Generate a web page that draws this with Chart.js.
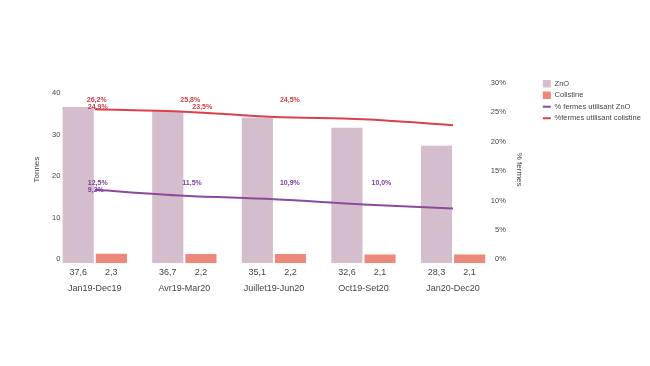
<!DOCTYPE html>
<html>
<head>
<meta charset="utf-8">
<script src="https://cdn.jsdelivr.net/npm/chart.js@4.4.1/dist/chart.umd.min.js"></script>
<style>
  html, body { margin: 0; padding: 0; background: #fff; }
</style>
</head>
<body>
<canvas id="chart" width="650" height="366"></canvas>
<script>
// données
const periodes = ['Jan19-Dec19', 'Avr19-Mar20', 'Juillet19-Jun20', 'Oct19-Set20', 'Jan20-Dec20'];
const tonnesZnO = [37.6, 36.7, 35.1, 32.6, 28.3];
const tonnesColistine = [2.3, 2.2, 2.2, 2.1, 2.1];
const pctFermesZnO = [12.5, 11.5, 10.9, 10.0, 9.3];
const pctFermesColistine = [26.2, 25.8, 24.9, 24.5, 23.5];

const FONT = '"Liberation Sans", Arial, sans-serif';
const TXT = '#454545';

const fmt = v => v.toFixed(1).replace('.', ',');

// valeurs sous les barres
const valeursBarres = {
    id: 'valeursBarres',
    afterDraw(chart) {
        const ctx = chart.ctx;
        ctx.save();
        ctx.font = '9px ' + FONT;
        ctx.fillStyle = TXT;
        ctx.textAlign = 'center';
        ctx.textBaseline = 'middle';
        [0, 1].forEach(i => {
            const meta = chart.getDatasetMeta(i);
            meta.data.forEach((bar, j) => {
                ctx.fillText(fmt(chart.data.datasets[i].data[j]), bar.x, chart.chartArea.bottom + 9);
            });
        });
        ctx.restore();
    }
};

// étiquettes des % (placées comme sur l'original : [index valeur, période, ligne, décalage x])
const etiquettesPct = {
    id: 'etiquettesPct',
    afterDatasetsDraw(chart) {
        const ctx = chart.ctx;
        const x = chart.scales.x;
        const y1 = chart.scales.y1;
        const series = [
            { ds: 3, color: '#cf3d47', rows: [-9, -2.5],
              place: [[0, 0, 0, -8], [1, 1, 0, -4], [3, 2, 0, 6], [2, 0, 1, -7], [4, 1, 1, 8]] },
            { ds: 2, color: '#7a3d9e', rows: [-7, 0],
              place: [[0, 0, 0, -7], [1, 1, 0, -2], [2, 2, 0, 6], [3, 3, 0, 8], [4, 0, 1, -7]] }
        ];
        ctx.save();
        ctx.font = 'bold 7px ' + FONT;
        ctx.textAlign = 'left';
        ctx.textBaseline = 'middle';
        series.forEach(s => {
            const data = chart.data.datasets[s.ds].data;
            const base = y1.getPixelForValue(data[0]);
            ctx.fillStyle = s.color;
            s.place.forEach(([vi, ci, row, dx]) => {
                ctx.fillText(fmt(data[vi]) + '%', x.getPixelForValue(ci) + dx, base + s.rows[row]);
            });
        });
        ctx.restore();
    }
};

new Chart(document.getElementById('chart'), {
    type: 'bar',
    data: {
        labels: periodes,
        datasets: [
            { label: 'ZnO', data: tonnesZnO, backgroundColor: '#d4bdcd', yAxisID: 'y', order: 2,
              categoryPercentage: 0.74, barPercentage: 0.94 },
            { label: 'Colistine', data: tonnesColistine, backgroundColor: '#ee887b', yAxisID: 'y', order: 2,
              categoryPercentage: 0.74, barPercentage: 0.94 },
            { type: 'line', label: '% fermes utilisant ZnO', data: pctFermesZnO, borderColor: '#8b4a9c',
              backgroundColor: '#8b4a9c', borderWidth: 2, pointRadius: 0, tension: 0.35, yAxisID: 'y1', order: 1 },
            { type: 'line', label: '%fermes utilisant colistine', data: pctFermesColistine, borderColor: '#d9414c',
              backgroundColor: '#d9414c', borderWidth: 2, pointRadius: 0, tension: 0.35, yAxisID: 'y1', order: 1 }
        ]
    },
    options: {
        responsive: false,
        animation: false,
        devicePixelRatio: 1,
        layout: { padding: { left: 28, top: 76, right: 9, bottom: 52 } },
        plugins: {
            tooltip: { enabled: false },
            legend: {
                position: 'right',
                align: 'start',
                labels: {
                    usePointStyle: true,
                    boxHeight: 8,
                    pointStyleWidth: 8,
                    padding: 4,
                    color: TXT,
                    font: { size: 7.5, family: FONT },
                    generateLabels(chart) {
                        return chart.data.datasets.map((d, i) => ({
                            text: d.label,
                            fillStyle: d.type === 'line' ? d.borderColor : d.backgroundColor,
                            strokeStyle: d.type === 'line' ? d.borderColor : d.backgroundColor,
                            lineWidth: d.type === 'line' ? 2 : 0,
                            pointStyle: d.type === 'line' ? 'line' : 'rect',
                            fontColor: TXT,
                            datasetIndex: i
                        }));
                    }
                }
            }
        },
        scales: {
            x: {
                grid: { display: false, drawTicks: false },
                border: { display: false },
                ticks: { padding: 20, color: TXT, font: { size: 9, family: FONT } }
            },
            y: {
                position: 'left',
                z: 1,
                min: 0,
                max: 45.06,
                grid: { display: false, drawTicks: false },
                border: { display: false },
                ticks: { stepSize: 10, includeBounds: false, mirror: true, padding: 2, labelOffset: -4,
                         color: TXT, font: { size: 7.5, family: FONT },
                         callback: v => String(v).padStart(2, '\u2007') },
                title: { display: true, text: 'Tonnes', color: TXT, font: { size: 8, family: FONT },
                         padding: { top: 4, bottom: 0 } },
                afterFit(s) { s.width = 22; }
            },
            y1: {
                position: 'right',
                z: 1,
                min: 0,
                max: 31.87,
                grid: { display: false, drawTicks: false },
                border: { display: false },
                ticks: { stepSize: 5, includeBounds: false, mirror: true, padding: 8, labelOffset: -4,
                         color: TXT, font: { size: 7.5, family: FONT },
                         callback: v => v + '%' },
                title: { display: true, text: '% fermes', color: TXT, font: { size: 8, family: FONT },
                         padding: { top: 15, bottom: 0 } },
                afterFit(s) { s.width = 41; }
            }
        }
    },
    plugins: [valeursBarres, etiquettesPct]
});
</script>
</body>
</html>
